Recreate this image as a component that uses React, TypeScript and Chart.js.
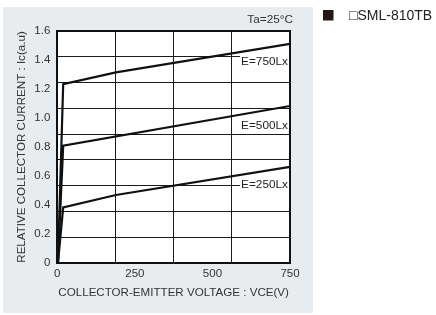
import React, { useEffect, useRef } from "react";
import { Chart, registerables } from "chart.js";

Chart.register(...registerables);

// Data (VCE in V, relative Ic in a.u.)
const vce750 = [2, 19, 189, 750];
const ic750 = [0, 1.233, 1.313, 1.51];
const vce500 = [2, 19, 750];
const ic500 = [0, 0.809, 1.082];
const vce250 = [2, 19, 189, 750];
const ic250 = [0, 0.385, 0.47, 0.664];

const seriesNames = ["E=750Lx", "E=500Lx", "E=250Lx"];
const seriesLabelY = [1.386, 0.944, 0.538];

const xTicks = [0, 250, 500, 750];
const yTicks = [0, 0.2, 0.4, 0.6, 0.8, 1.0, 1.2, 1.4, 1.6];
const xGridDivisions = 4;
const yGridDivisions = 9;

const xTitle = "COLLECTOR-EMITTER VOLTAGE : VCE(V)";
const yTitle = "RELATIVE COLLECTOR CURRENT : Ic(a.u)";
const tempNote = "Ta=25°C";
const legendText = "□SML-810TB";

const FONT = "'Liberation Sans', Arial, sans-serif";
const TEXT = "#333333";

const decorPlugin = {
  id: "decor",
  beforeDraw(chart: any) {
    const { ctx, chartArea } = chart;
    ctx.save();
    ctx.fillStyle = "#e9ecef";
    ctx.fillRect(3, 7, 310, 306);
    ctx.fillStyle = "#ffffff";
    ctx.fillRect(chartArea.left, chartArea.top, chartArea.right - chartArea.left, chartArea.bottom - chartArea.top);
    ctx.restore();
  },
  afterDatasetsDraw(chart: any) {
    const { ctx, scales, chartArea } = chart;
    ctx.save();
    ctx.font = `11.8px ${FONT}`;
    ctx.textBaseline = "middle";
    ctx.textAlign = "right";
    const xr = scales.x.getPixelForValue(750) - 2;
    seriesNames.forEach((name, i) => {
      const y = scales.y.getPixelForValue(seriesLabelY[i]);
      const w = ctx.measureText(name).width;
      ctx.fillStyle = "#ffffff";
      ctx.fillRect(xr - w - 1, y - 6, w + 2, 12);
      ctx.fillStyle = "#222222";
      ctx.fillText(name, xr, y);
    });
    // temperature note
    ctx.fillStyle = TEXT;
    ctx.font = `11.8px ${FONT}`;
    ctx.textAlign = "right";
    ctx.fillText(tempNote, chartArea.right + 3, 19.5);
    // legend
    ctx.fillStyle = "#231815";
    ctx.fillRect(323, 10, 10.5, 10.5);
    ctx.fillStyle = "#222222";
    ctx.font = `14px ${FONT}`;
    ctx.textAlign = "left";
    ctx.fillText(legendText, 349, 16);
    ctx.restore();
  },
};

export default function App() {
  const ref = useRef<HTMLCanvasElement | null>(null);

  useEffect(() => {
    if (!ref.current) return;
    const mk = (xs: number[], ys: number[]) => xs.map((x, i) => ({ x, y: ys[i] }));
    const lineStyle = {
      borderColor: "#111111",
      borderWidth: 2.2,
      pointRadius: 0,
      tension: 0,
      fill: false,
    };
    const chart = new Chart(ref.current, {
      type: "line",
      data: {
        datasets: [
          { label: seriesNames[0], data: mk(vce750, ic750), ...lineStyle },
          { label: seriesNames[1], data: mk(vce500, ic500), ...lineStyle },
          { label: seriesNames[2], data: mk(vce250, ic250), ...lineStyle },
        ],
      },
      options: {
        animation: false,
        responsive: false,
        devicePixelRatio: 1,
        layout: { padding: { top: 30.7, right: 146, bottom: 0, left: 0 } },
        plugins: { legend: { display: false }, tooltip: { enabled: false } },
        scales: {
          x: {
            type: "linear",
            position: "bottom",
            min: 0,
            max: 750,
            afterBuildTicks: (s: any) => {
              s.ticks = xTicks.map((v) => ({ value: v }));
            },
            afterFit: (s: any) => {
              s.height = 51.7;
            },
            grid: { display: false, drawTicks: false },
            border: { display: true, color: "#111111", width: 2 },
            ticks: {
              padding: 4,
              color: TEXT,
              font: { family: FONT, size: 11.5 },
              maxRotation: 0,
              autoSkip: false,
            },
            title: {
              display: true,
              text: xTitle,
              color: TEXT,
              font: { family: FONT, size: 11.6 },
              padding: { top: 0, bottom: 15 },
            },
          },
          y: {
            type: "linear",
            position: "left",
            min: 0,
            max: 1.6,
            afterBuildTicks: (s: any) => {
              s.ticks = yTicks.map((v) => ({ value: v }));
            },
            afterFit: (s: any) => {
              s.width = 57.3;
            },
            grid: { display: false, drawTicks: false },
            border: { display: true, color: "#111111", width: 2 },
            ticks: {
              padding: 7,
              color: TEXT,
              font: { family: FONT, size: 11.5 },
              callback: (v: any) => (Number(v) === 0 ? "0" : Number(v).toFixed(1)),
            },
            title: {
              display: true,
              text: yTitle,
              color: TEXT,
              font: { family: FONT, size: 11.6 },
              padding: { top: 15, bottom: 0 },
            },
          },
          x2: {
            type: "linear",
            position: "top",
            min: 0,
            max: xGridDivisions,
            ticks: { display: false, stepSize: 1 },
            afterFit: (s: any) => {
              s.height = 0;
            },
            grid: { display: true, color: "#1a1a1a", lineWidth: 1, drawTicks: false },
            border: { display: true, color: "#111111", width: 2 },
          },
          y2: {
            type: "linear",
            position: "right",
            min: 0,
            max: yGridDivisions,
            ticks: { display: false, stepSize: 1 },
            afterFit: (s: any) => {
              s.width = 0;
            },
            grid: { display: true, color: "#1a1a1a", lineWidth: 1, drawTicks: false },
            border: { display: true, color: "#111111", width: 2 },
          },
        },
      },
      plugins: [decorPlugin],
    } as any);
    return () => chart.destroy();
  }, []);

  return (
    <div style={{ position: "fixed", left: 0, top: 0, width: 436, height: 315, background: "#ffffff" }}>
      <canvas ref={ref} width={436} height={315} style={{ width: 436, height: 315, display: "block" }} />
    </div>
  );
}
